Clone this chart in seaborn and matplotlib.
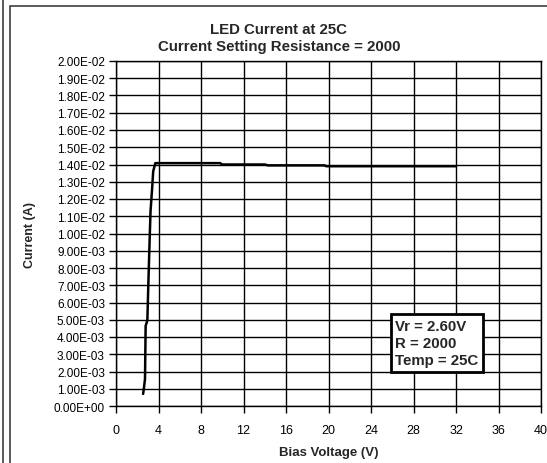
import matplotlib
matplotlib.use('Agg')
import matplotlib.pyplot as plt
import matplotlib.ticker as mticker
from matplotlib.patches import Rectangle
import seaborn as sns
import pandas as pd

# --- data ---
bias_voltage = [2.55, 2.62, 2.73, 2.79, 2.95, 3.05, 3.15, 3.25, 3.40, 3.50, 3.70,
                9.8, 10.0, 14.0, 14.3, 19.6, 19.8, 32.0]
current_a = [0.70e-3, 1.00e-3, 1.57e-3, 4.65e-3, 4.95e-3, 7.20e-3, 9.30e-3, 11.3e-3,
             12.6e-3, 13.6e-3, 14.08e-3, 14.08e-3, 14.0e-3, 14.0e-3, 13.95e-3,
             13.95e-3, 13.9e-3, 13.9e-3]
x_ticks = list(range(0, 41, 4))
y_ticks = [i * 1e-3 for i in range(21)]
title_lines = ["LED Current at 25C", "Current Setting Resistance = 2000"]
box_text = "Vr = 2.60V\nR = 2000\nTemp = 25C"

sns.set_theme(style="white")
plt.rcParams['font.family'] = ['Liberation Sans', 'DejaVu Sans']
plt.rcParams['axes.unicode_minus'] = False

df = pd.DataFrame({'Bias Voltage (V)': bias_voltage, 'Current (A)': current_a})

fig = plt.figure(figsize=(5.47, 4.64), dpi=100)
fig.patch.set_facecolor('white')

# outer chart frame
fig.add_artist(Rectangle((10 / 547, -0.05), 1.1, 1 - 7 / 464 + 0.05, transform=fig.transFigure,
                         fill=False, edgecolor='#404040', linewidth=1.2))
fig.add_artist(plt.Line2D([3 / 547, 3 / 547], [0, 1], transform=fig.transFigure,
                          color='#404040', linewidth=1.2))

ax = fig.add_axes([116 / 547, 1 - 407 / 464, (541 - 116) / 547, (407 - 62) / 464])
sns.lineplot(data=df, x='Bias Voltage (V)', y='Current (A)', sort=False, estimator=None,
             color='black', linewidth=1.8, ax=ax)

ax.set_xlim(0, 40)
ax.set_ylim(0, 0.02)
ax.set_xticks(x_ticks)
ax.set_yticks(y_ticks)
ax.yaxis.set_major_formatter(mticker.FuncFormatter(lambda v, _: f"{v:.2E}"))
ax.grid(True, color='black', linewidth=1)
for s in ax.spines.values():
    s.set_color('black')
    s.set_linewidth(1)
ax.tick_params(axis='both', direction='out', length=5, width=1, color='black',
               labelsize=8.5, labelcolor='black', pad=3, left=True, bottom=True)
ax.tick_params(axis='x', pad=8, labelsize=9)
ax.set_xlabel('Bias Voltage (V)', fontsize=9.5, fontweight='bold', labelpad=7)
ax.set_ylabel('')
fig.text(30 / 547, 1 - 235 / 464, 'Current (A)', rotation=90, fontsize=9,
         fontweight='bold', ha='center', va='center')

fig.text(279 / 547, 1 - 30 / 464, title_lines[0], fontsize=10.8, fontweight='bold',
         ha='center', va='center')
fig.text(279 / 547, 1 - 47 / 464, title_lines[1], fontsize=10.8, fontweight='bold',
         ha='center', va='center')

ax.text(26.3, 5.05e-3, box_text, fontsize=10.8, fontweight='bold', ha='left', va='top',
        linespacing=1.3,
        bbox=dict(boxstyle='square,pad=0.3', facecolor='white', edgecolor='black', linewidth=2))

fig.savefig('out.png', dpi=100)
